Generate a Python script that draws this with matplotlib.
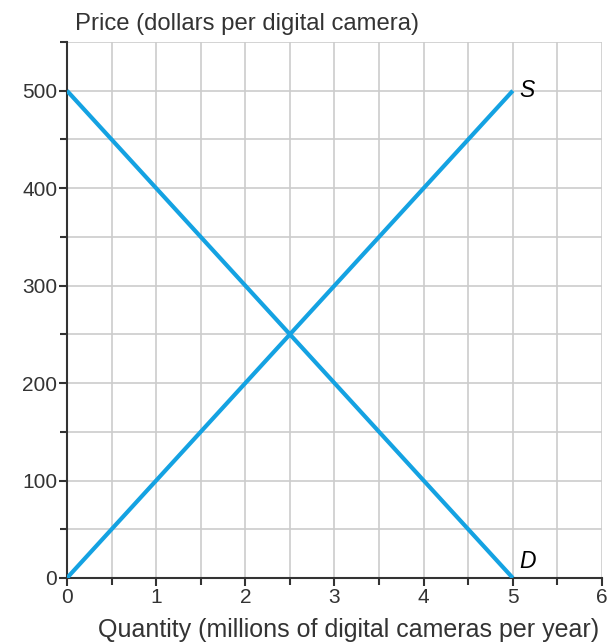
import matplotlib
matplotlib.use("Agg")
import matplotlib.pyplot as plt
import numpy as np

plt.rcParams['font.family'] = ['Liberation Sans', 'DejaVu Sans']

# data
quantity = [0, 5]
supply_price = [0, 500]
demand_price = [500, 0]
x_major = [0, 1, 2, 3, 4, 5, 6]
y_major = [0, 100, 200, 300, 400, 500]

blue = '#14a2e2'
text_col = '#333333'
axis_col = '#333333'

fig = plt.figure(figsize=(6.09, 6.43), dpi=100)
ax = fig.add_axes([0.110, 0.1011, 0.8785, 0.8336])

ax.plot(quantity, supply_price, color=blue, lw=3.0, solid_capstyle='butt', zorder=3)
ax.plot(quantity, demand_price, color=blue, lw=3.0, solid_capstyle='butt', zorder=3)

ax.set_xlim(0, 6)
ax.set_ylim(0, 550)
ax.set_xticks(x_major)
ax.set_yticks(y_major)
ax.set_xticks(np.arange(0.5, 6, 1), minor=True)
ax.set_yticks(np.arange(50, 551, 100), minor=True)

ax.grid(True, which='both', color='#cccccc', lw=1.2, zorder=0)
ax.set_axisbelow(True)

for side in ['top', 'right']:
    ax.spines[side].set_visible(False)
for side in ['left', 'bottom']:
    ax.spines[side].set_color(axis_col)
    ax.spines[side].set_linewidth(1.5)

ax.tick_params(which='major', length=6, width=1.5, color=axis_col,
               labelsize=15, labelcolor=text_col, pad=1)
ax.tick_params(which='minor', length=5, width=1.5, color=axis_col)

ax.text(5.07, 500, 'S', style='italic', fontsize=16.5, ha='left', va='center', color='black')
ax.text(5.07, 17, 'D', style='italic', fontsize=16.5, ha='left', va='center', color='black')

fig.text(75 / 609, 1 - 30 / 643, 'Price (dollars per digital camera)', fontsize=17.2,
         color=text_col, ha='left', va='baseline')
fig.text(349 / 609, 1 - 637 / 643, 'Quantity (millions of digital cameras per year)',
         fontsize=18, color=text_col, ha='center', va='baseline')

fig.savefig('out.png', dpi=100)
